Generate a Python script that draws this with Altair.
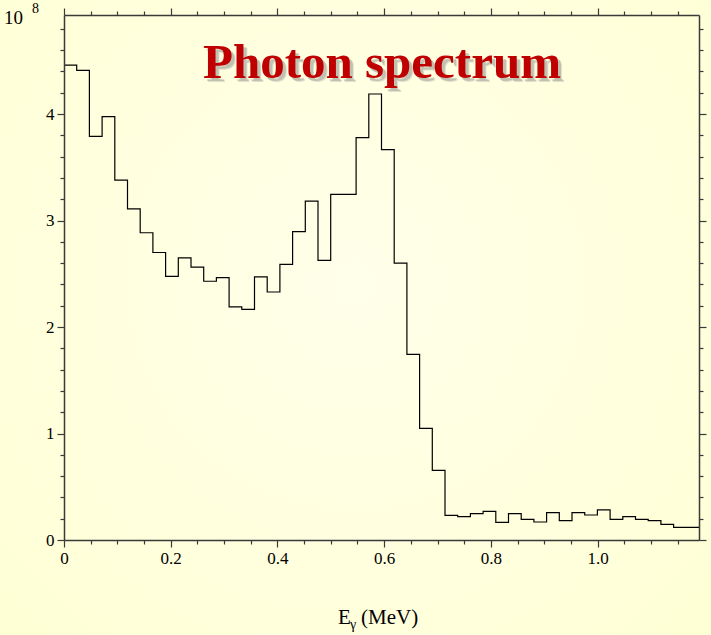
import altair as alt
import pandas as pd

# ---- data ----
bin_width = 0.0238          # MeV
counts_1e8 = [4.46, 4.41, 3.79, 3.975, 3.38, 3.11, 2.885, 2.70, 2.476, 2.65,
              2.563, 2.43, 2.463, 2.19, 2.166, 2.47, 2.329, 2.589, 2.895, 3.183,
              2.626, 3.246, 3.246, 3.778, 4.188, 3.665, 2.60, 1.743, 1.048, 0.654,
              0.232, 0.219, 0.247, 0.269, 0.166, 0.247, 0.194, 0.169, 0.257, 0.182,
              0.257, 0.235, 0.282, 0.194, 0.219, 0.194, 0.182, 0.147, 0.119, 0.119]
x_major = [0, 0.2, 0.4, 0.6, 0.8, 1.0]
x_minor = [0.05, 0.1, 0.15, 0.25, 0.3, 0.35, 0.45, 0.5, 0.55, 0.65, 0.7, 0.75,
           0.85, 0.9, 0.95, 1.05, 1.1, 1.15]
y_major = [0, 1, 2, 3, 4]
y_minor = [0.2, 0.4, 0.6, 0.8, 1.2, 1.4, 1.6, 1.8, 2.2, 2.4, 2.6, 2.8,
           3.2, 3.4, 3.6, 3.8, 4.2, 4.4, 4.6, 4.8]
title_text = "Photon spectrum"

edges = [i * bin_width for i in range(len(counts_1e8) + 1)]
df = pd.DataFrame({"e": edges, "v": counts_1e8 + [counts_1e8[-1]]})

W, H = 635, 525
PL, PT, PR, PB = 64, 15, 12, 95

xs = alt.Scale(domain=[0, edges[-1]], nice=False, zero=False)
ys = alt.Scale(domain=[0, 4.93], nice=False, zero=False)

TICK = "#3a3a3a"
FONT = "Liberation Serif"


def ax(orient, values, size, labels=False, fmt=None, domain=False):
    kw = dict(orient=orient, values=values, tickSize=size, tickColor=TICK,
              tickWidth=1.2, domain=domain, domainColor=TICK, domainWidth=1.5,
              grid=False, title=None, zindex=2,
              labels=labels, labelFont=FONT, labelFontSize=17,
              labelColor="black", labelPadding=3, labelFlush=False,
              labelOverlap=False)
    if fmt:
        kw["labelExpr"] = fmt
    return alt.Axis(**kw)


def hist(xaxis, yaxis, opacity):
    return alt.Chart(df).mark_line(
        interpolate="step-after", color="black", strokeWidth=1.2,
        opacity=opacity
    ).encode(
        x=alt.X("e:Q", scale=xs, axis=xaxis),
        y=alt.Y("v:Q", scale=ys, axis=yaxis),
    )


xfmt = "datum.value == 0 ? '0' : format(datum.value, '.1f')"

main = hist(ax("bottom", x_major, 7, True, xfmt, True),
            ax("left", y_major, 7, True, "format(datum.value, 'd')", True), 1)
minor = hist(ax("bottom", x_minor, 4), ax("left", y_minor, 4), 0)
top_major = hist(ax("top", x_major, 7, domain=True), ax("right", y_major, 7, domain=True), 0)
top_minor = hist(ax("top", x_minor, 4), ax("right", y_minor, 4), 0)

one = pd.DataFrame({"a": [0]})

bg = alt.Chart(one).mark_rect(
    fill={"gradient": "radial",
          "x1": 0.5, "y1": 0.45, "x2": 0.5, "y2": 0.45, "r1": 0, "r2": 0.8,
          "stops": [{"offset": 0, "color": "#FFFFEA"},
                    {"offset": 1, "color": "#FFFFD2"}]},
).encode(x=alt.value(-PL), x2=alt.value(W + PR),
         y=alt.value(-PT), y2=alt.value(H + PB))


def txt(text, x, y, size, color="black", bold=False, align="left", dx=0, dy=0,
        opacity=1.0, font=FONT):
    return alt.Chart(one).mark_text(
        text=text, font=font, fontSize=size, color=color,
        fontWeight="bold" if bold else "normal", align=align,
        baseline="alphabetic", dx=dx, dy=dy, opacity=opacity
    ).encode(x=alt.value(x), y=alt.value(y))


title_x, title_y = 318, 63
shadow1 = txt(title_text, title_x, title_y, 49, "#888888", True, "center", 4, 4, 0.25)
shadow2 = txt(title_text, title_x, title_y, 49, "#888888", True, "center", 3, 3, 0.35)
title = txt(title_text, title_x, title_y, 49, "#C00000", True, "center")

exp10 = txt("10", -60, 9, 19)
exp8 = txt("8", -32, -2, 14)

lab_E = txt("E", 274, 609, 21)
lab_g = txt("γ", 286, 614, 14)
lab_unit = txt("(MeV)", 297, 609, 21)

chart = alt.layer(
    bg, minor, top_major, top_minor, main,
    shadow1, shadow2, title, exp10, exp8, lab_E, lab_g, lab_unit
).resolve_axis(
    x="independent", y="independent"
).properties(
    width=W, height=H,
    padding={"left": PL, "top": PT, "right": PR, "bottom": PB},
    autosize=alt.AutoSizeParams(type="none"),
    background="#FFFFDC",
).configure_view(
    strokeWidth=0
)

chart.save("out.html", embed_options={"renderer": "svg", "actions": False})
